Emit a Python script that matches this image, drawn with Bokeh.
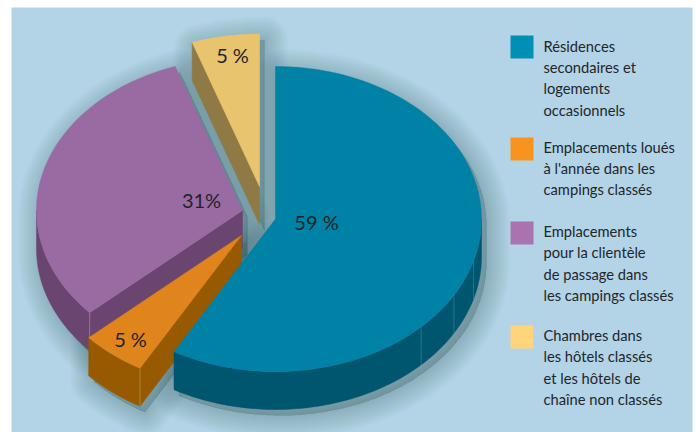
import math
from bokeh.plotting import figure
from bokeh.models import ColumnDataSource
from bokeh.embed import file_html
from bokeh.resources import INLINE
from bokeh.core.properties import value

# Data
percent_labels = ["59 %", "5 %", "31%", "5 %"]
drawn_shares = [58.2, 5.1, 31.4, 5.3]
legend_lines = [
    ["Résidences", "secondaires et", "logements", "occasionnels"],
    ["Emplacements loués", "à l'année dans les", "campings classés"],
    ["Emplacements", "pour la clientèle", "de passage dans", "les campings classés"],
    ["Chambres dans", "les hôtels classés", "et les hôtels de", "chaîne non classés"],
]

# Style / layout
W, H = 696, 432
BG = "#b3d3e6"
top_cols = ["#0082a6", "#e0851b", "#9a6ba3", "#e9c46f"]
wall_cols = ["#00556f", "#975a00", "#6a4570", "#8f7a45"]
legend_cols = ["#0090b5", "#f7931e", "#a873ae", "#ffd47a"]
apexes = [(275, 218.5), (241, 235), (242, 210), (259, 186)]
RX, RY, DEPTH = 206, 152.5, 38
label_pos = [(316, 221), (130, 338), (201, 199), (232, 54)]
legend_y = [35, 137, 221, 325]
legend_text_y = [[45, 66, 87, 109], [146, 167, 188], [230, 251, 273, 294], [334, 355, 377, 398]]
teal_seams = [106, 120, 135]
FONT = value("Lato")

p = figure(width=W, height=H, x_range=(0, W), y_range=(H, 0),
           output_backend="svg", toolbar_location=None, min_border=0,
           background_fill_color="white", border_fill_color="white", outline_line_color=None)
p.axis.visible = False
p.grid.visible = False
p.xaxis.visible = False
p.yaxis.visible = False

p.quad(left=11, right=692, top=7, bottom=432, fill_color=BG, line_color=None)


def pt(c, a, d=0.0):
    r = math.radians(a)
    return c[0] + RX * math.sin(r), c[1] - RY * math.cos(r) + d


def arc(a0, a1, n=None):
    n = n or max(4, int(abs(a1 - a0) / 1.5))
    return [a0 + (a1 - a0) * i / n for i in range(n + 1)]


# Slice angles come from the shares
angles = []
cur = 0.0
for s in drawn_shares:
    angles.append((cur, cur + s * 3.6))
    cur += s * 3.6


def silhouette(c, a0, a1):
    pts = [c]
    if a0 > 0:
        pts.append((c[0], c[1] + DEPTH))
        pts.append(pt(c, a0, DEPTH))
    for a in arc(a0, a1):
        pts.append(pt(c, a, DEPTH if 90 < a < 270 else 0))
    pts.append(pt(c, a1))
    return pts


# soft shadows
for i in range(len(angles)):
    a0, a1 = angles[i]
    sil = silhouette(apexes[i], a0, a1)
    xs = [q[0] + 5 for q in sil]
    ys = [q[1] + 6 for q in sil]
    for w in (46, 42, 38, 34, 30, 26, 22, 18, 14, 10, 6, 2):
        p.patch(xs, ys, fill_color="#2f5268", fill_alpha=0.024, line_color="#2f5268",
                line_alpha=0.024, line_width=w, line_join="round")

# slices drawn back to front
for i in (3, 2, 1, 0):
    c = apexes[i]
    a0, a1 = angles[i]
    if a0 > 0:
        e = pt(c, a0)
        p.patch([c[0], e[0], e[0], c[0]], [c[1], e[1], e[1] + DEPTH, c[1] + DEPTH],
                fill_color=wall_cols[i], line_color=wall_cols[i], line_width=0.5)
    lo, hi = max(a0, 90), min(a1, 270)
    if lo < hi:
        aa = arc(lo, hi)
        up = [pt(c, a) for a in aa]
        dn = [pt(c, a, DEPTH) for a in reversed(aa)]
        p.patch([q[0] for q in up + dn], [q[1] for q in up + dn],
                fill_color=wall_cols[i], line_color=wall_cols[i], line_width=0.5)
    if a0 > 0 and 90 < a0 < 270:
        e = pt(c, a0)
        p.line([e[0], e[0]], [e[1], e[1] + DEPTH], line_color="#ffffff", line_alpha=0.25, line_width=1)
    top = [c] + [pt(c, a) for a in arc(a0, a1)]
    p.patch([q[0] for q in top], [q[1] for q in top], fill_color=top_cols[i],
            line_color=top_cols[i], line_width=0.5)

for a in teal_seams:
    e = pt(apexes[0], a)
    p.line([e[0], e[0]], [e[1], e[1] + DEPTH], line_color="#ffffff", line_alpha=0.16, line_width=1)

src = ColumnDataSource(dict(x=[q[0] for q in label_pos], y=[q[1] for q in label_pos], t=percent_labels))
p.text("x", "y", text="t", source=src, text_font=FONT, text_font_size="20px", text_color="#1f2328",
       text_align="center", text_baseline="middle")

for col, y0, lines, ys in zip(legend_cols, legend_y, legend_lines, legend_text_y):
    p.quad(left=510, right=533, top=y0, bottom=y0 + 23, fill_color=col, line_color=None)
    p.text([543] * len(lines), ys, text=lines, text_font=FONT, text_font_size="14.7px",
           text_color="#22262b", text_align="left", text_baseline="middle")

open("out.html", "w").write(file_html(p, INLINE))
